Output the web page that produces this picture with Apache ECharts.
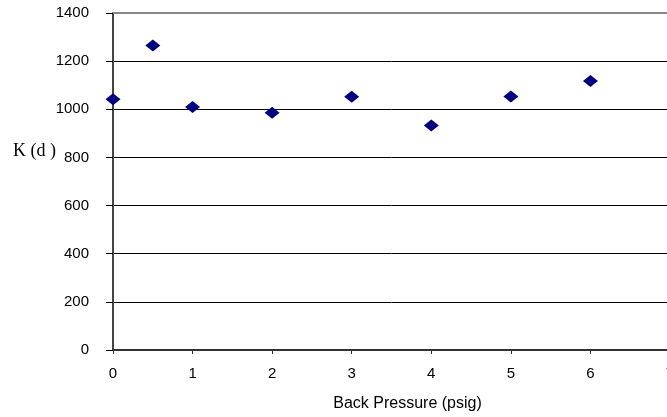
<!DOCTYPE html>
<html>
<head>
<meta charset="utf-8">
<script src="https://cdn.jsdelivr.net/npm/echarts@6/dist/echarts.min.js"></script>
<style>html,body{margin:0;padding:0;background:#fff;overflow:hidden;width:667px;height:417px}#c{width:680px;height:417px}</style>
</head>
<body>
<div id="c"></div>
<script>
var backPressure = [0, 0.5, 1, 2, 3, 4, 5, 6];
var kValues = [1042, 1265, 1009, 986, 1052, 933, 1053, 1117];
var xTicks = [0, 1, 2, 3, 4, 5, 6, 7];
var yTicks = [0, 200, 400, 600, 800, 1000, 1200, 1400];

var chart = echarts.init(document.getElementById('c'), null, {renderer: 'canvas'});
var points = backPressure.map(function (x, i) { return [x, kValues[i]]; });
chart.setOption({
  animation: false,
  backgroundColor: '#fff',
  grid: {left: 113, right: 10, top: 13, bottom: 66, containLabel: false},
  xAxis: {
    type: 'value', min: xTicks[0], max: xTicks[xTicks.length - 1], interval: 1,
    name: 'Back Pressure (psig)', nameLocation: 'middle', nameGap: 46,
    nameTextStyle: {color: '#000', fontFamily: 'Liberation Sans, Arial', fontSize: 16, padding: [0, 0, 0, 32]},
    axisLine: {show: true, lineStyle: {color: '#333', width: 2}},
    axisTick: {show: true, length: 4, lineStyle: {color: '#333'}},
    axisLabel: {color: '#000', fontFamily: 'Liberation Sans, Arial', fontSize: 15, margin: 16,
      formatter: function (v) { return String(v); }},
    splitLine: {show: false}
  },
  yAxis: {
    type: 'value', min: yTicks[0], max: yTicks[yTicks.length - 1], interval: 200,
    axisLine: {show: true, lineStyle: {color: '#444', width: 2}},
    axisTick: {show: true, length: 7, lineStyle: {color: '#000'}},
    axisLabel: {color: '#000', fontFamily: 'Liberation Sans, Arial', fontSize: 15, margin: 24,
      formatter: function (v) { return String(v); }},
    splitLine: {show: true, lineStyle: {color: '#000', width: 1}}
  },
  graphic: [{
    type: 'text', left: 13, top: 142,
    style: {text: 'K (d )', fill: '#000', font: '18px "Liberation Serif", "Times New Roman", serif'}
  }],
  series: [{
    type: 'scatter',
    data: points,
    symbol: 'diamond',
    symbolSize: [15, 12],
    itemStyle: {color: '#000080', opacity: 1},
    clip: false,
    markLine: {
      silent: true, symbol: 'none', label: {show: false},
      lineStyle: {color: '#888', width: 2, type: 'solid'},
      data: [{yAxis: yTicks[yTicks.length - 1]}]
    }
  }]
});
</script>
</body>
</html>
